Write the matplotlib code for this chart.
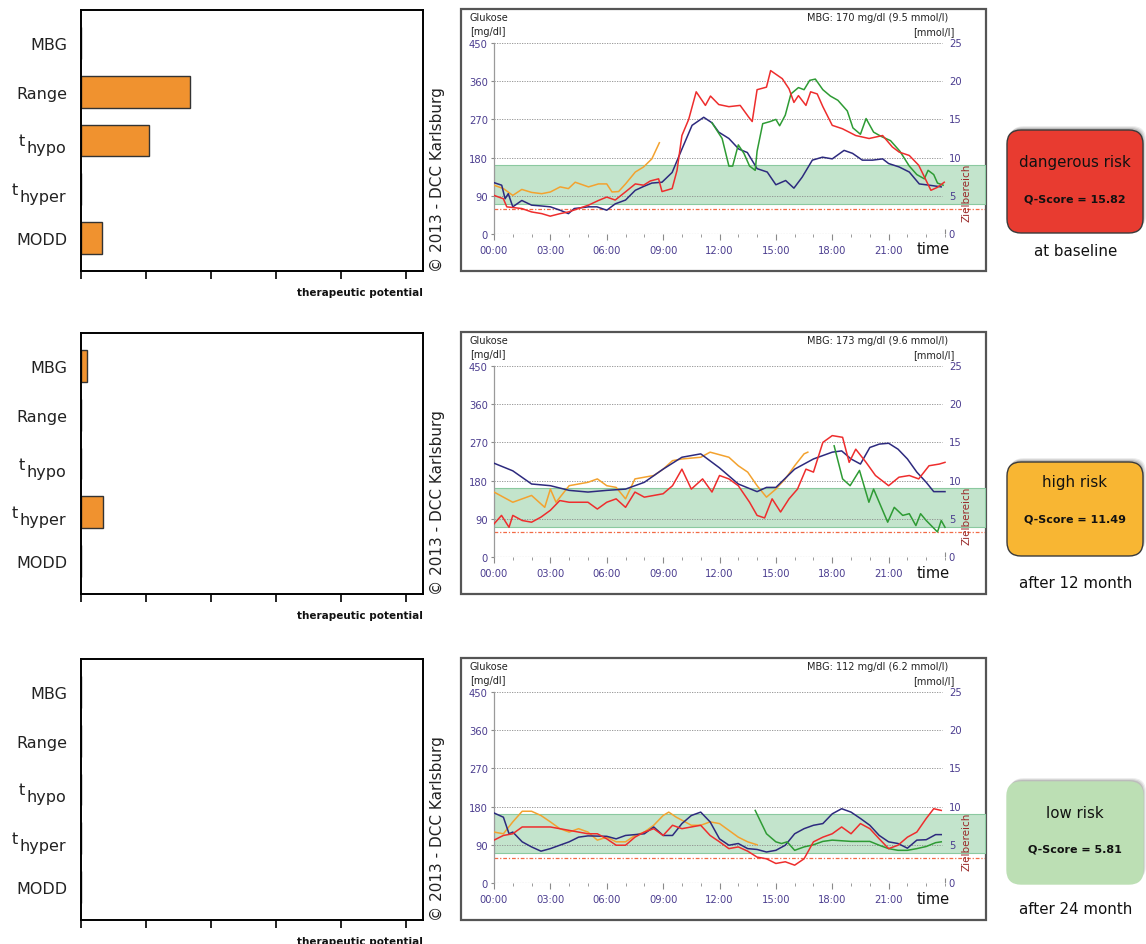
import numpy as np
import matplotlib.pyplot as plt
from matplotlib.patches import Rectangle, FancyBboxPatch

plt.rcParams['font.family'] = ['DejaVu Sans']
NARROW = ['Liberation Sans Narrow', 'DejaVu Sans Condensed', 'DejaVu Sans']

W, H = 1146, 945

# --- therapeutic potential per metric ---
metrics = ['MBG', 'Range', 't_hypo', 't_hyper', 'MODD']
potential_baseline = [0.0, 1.68, 1.05, 0.0, 0.32]
potential_12m = [0.09, 0.0, 0.0, 0.34, 0.0]
potential_24m = [0.0, 0.0, 0.0, 0.0, 0.0]

# --- summary values ---
mbg_mgdl = [170, 173, 112]
mbg_mmol = [9.5, 9.6, 6.2]
q_scores = [15.82, 11.49, 5.81]
risk_names = ['dangerous risk', 'high risk', 'low risk']
risk_colors = ['#E83B30', '#F8B633', '#BCDFB4']
risk_edges = ['#3a3a3a', '#3a3a3a', '#BCDFB4']
periods = ['at baseline', 'after 12 month', 'after 24 month']

y_ticks_mg = [0, 90, 180, 270, 360, 450]
y_ticks_mmol = [0, 5, 10, 15, 20, 25]
x_ticks_h = [0, 3, 6, 9, 12, 15, 18, 21]
x_tick_labels = ['00:00', '03:00', '06:00', '09:00', '12:00', '15:00', '18:00', '21:00']
target_low, target_high, hypo_limit = 70, 162, 60

# --- glucose profiles, baseline ---
bl_orange_h = [0, 0.5, 1.0, 1.48, 2.0, 2.54, 3.0, 3.52, 3.96, 4.32, 5.03, 5.56, 6.0, 6.28,
               6.63, 7.0, 7.52, 7.96, 8.4, 8.8]
bl_orange_mg = [115, 107, 91, 105, 98, 95, 99, 111, 107, 122, 111, 118, 118, 99,
                100, 118, 146, 158, 177, 215]
bl_navy_h = [0, 0.41, 0.59, 0.76, 1.0, 1.48, 2.0, 2.54, 3.0, 3.52, 3.96, 4.27, 5.03, 5.48,
             6.0, 6.45, 7.0, 7.52, 7.96, 8.4, 8.94, 9.48, 10.0, 10.54, 11.16, 11.6, 11.96,
             12.5, 13.03, 13.48, 14.0, 14.54, 15.0, 15.52, 15.96, 16.4, 16.94, 17.48, 18.0,
             18.63, 19.08, 19.6, 20.14, 20.68, 21.0, 21.56, 22.1, 22.63, 23.16, 23.8]
bl_navy_mg = [121, 115, 83, 95, 64, 79, 68, 66, 64, 56, 48, 60, 64, 64,
              56, 71, 80, 103, 112, 120, 122, 145, 200, 256, 275, 262, 240,
              225, 200, 192, 154, 146, 116, 126, 108, 134, 174, 181, 177,
              197, 190, 174, 174, 177, 166, 158, 146, 118, 115, 111]
bl_red_h = [0, 0.5, 0.68, 1.48, 2.0, 2.54, 2.99, 3.52, 3.96, 4.5, 5.03, 5.56, 6.0, 6.45,
            6.99, 7.52, 7.96, 8.32, 8.76, 8.94, 9.48, 9.74, 10.0, 10.36, 10.76, 11.25,
            11.52, 11.96, 12.5, 13.1, 13.56, 13.74, 14.0, 14.5, 14.72, 15.34, 15.7, 15.96,
            16.2, 16.6, 16.85, 17.2, 17.5, 18.0, 18.54, 19.25, 19.96, 20.68, 21.2, 21.56,
            22.1, 22.6, 23.25, 23.6, 23.96]
bl_red_mg = [91, 83, 64, 60, 52, 48, 42, 48, 52, 60, 68, 79, 87, 80,
             99, 118, 115, 125, 130, 100, 107, 150, 232, 270, 335, 303,
             325, 305, 300, 303, 275, 265, 340, 346, 385, 366, 342, 310,
             326, 303, 335, 330, 300, 256, 248, 232, 225, 232, 205, 193,
             185, 162, 103, 110, 122]
bl_green_h = [11.6, 12.14, 12.5, 12.7, 13.0, 13.3, 13.6, 13.9, 14.0, 14.3, 14.7, 15.0, 15.2,
              15.5, 15.8, 16.2, 16.5, 16.8, 17.1, 17.5, 17.9, 18.3, 18.8, 19.1, 19.5, 19.8,
              20.2, 20.6, 21.1, 21.6, 22.1, 22.5, 22.9, 23.1, 23.4, 23.6, 23.9]
bl_green_mg = [262, 225, 160, 160, 210, 190, 160, 150, 195, 260, 265, 270, 255,
               280, 330, 345, 340, 362, 365, 340, 325, 315, 290, 250, 235, 272,
               240, 230, 220, 195, 160, 140, 130, 150, 140, 120, 115]

# --- glucose profiles, after 12 months ---
m12_orange_h = [0, 1.0, 2.0, 2.7, 3.0, 3.3, 4.0, 5.0, 5.5, 6.0, 6.5, 7.0, 7.5, 8.5, 9.0,
                9.5, 10.0, 11.0, 11.5, 12.5, 13.0, 13.5, 14.0, 14.5, 15.0, 15.5, 16.0,
                16.5, 16.7]
m12_orange_mg = [153, 129, 145, 117, 160, 129, 168, 176, 184, 168, 164, 137, 184, 192, 207,
                 227, 231, 235, 247, 235, 215, 200, 168, 141, 160, 184, 215,
                 243, 247]
m12_navy_h = [0, 1, 2, 3, 4, 5, 6, 7, 8, 9, 10, 11, 12, 13, 14, 14.5, 15, 16, 17, 18, 18.5,
              19, 19.5, 20, 20.5, 21, 21.5, 22, 22.5, 23, 23.4, 24]
m12_navy_mg = [221, 203, 172, 168, 157, 153, 157, 160, 176, 207, 235, 243, 210, 172, 154, 164,
               164, 207, 231, 247, 250, 231, 219, 258, 266, 268, 254, 231, 200, 176, 154, 154]
m12_red_h = [0, 0.4, 0.8, 1.0, 1.5, 2.0, 2.5, 3.0, 3.5, 4.0, 5.0, 5.5, 6.0, 6.5, 7.0, 7.5,
             8.0, 8.5, 9.0, 9.5, 10.0, 10.5, 11.1, 11.6, 12.0, 12.5, 13.0, 13.6, 14.0, 14.4,
             14.8, 15.25, 15.7, 16.15, 16.6, 17.0, 17.5, 18.0, 18.55, 18.9, 19.25, 19.8,
             20.3, 21.0, 21.55, 22.1, 22.6, 23.15, 23.7, 24.0]
m12_red_mg = [78, 98, 70, 98, 86, 82, 94, 110, 133, 129, 129, 113, 129, 137, 117, 153,
              141, 145, 149, 168, 207, 160, 184, 153, 192, 184, 168, 129, 98, 92,
              137, 106, 137, 160, 207, 200, 270, 286, 282, 223, 254, 223,
              192, 168, 188, 192, 184, 215, 219, 223]
m12_green_h = [18.1, 18.55, 18.95, 19.45, 19.95, 20.2, 20.95, 21.3, 21.75, 22.1, 22.45, 22.7,
               23.0, 23.6, 23.8, 24.0]
m12_green_mg = [262, 184, 168, 204, 129, 160, 82, 117, 98, 102, 74, 102,
                86, 59, 86, 70]

# --- glucose profiles, after 24 months ---
m24_orange_h = [0, 0.5, 1.0, 1.5, 2.0, 2.5, 3.0, 3.5, 4.0, 4.5, 5.0, 5.5, 6.0, 6.5, 7.0,
                7.5, 8.0, 8.5, 9.0, 9.3, 9.7, 10.0, 10.5, 11.0, 11.5, 12.0, 12.5, 13.0,
                13.5, 14.0]
m24_orange_mg = [120, 116, 144, 169, 169, 159, 144, 128, 120, 128, 120, 101, 108, 97, 97,
                 112, 120, 136, 159, 167, 155, 148, 136, 136, 144, 140, 124, 108,
                 97, 90]
m24_navy_h = [0, 0.5, 0.8, 1.0, 1.5, 2.0, 2.5, 3.0, 4.0, 4.5, 5.0, 6.0, 6.5, 7.0, 8.0, 8.5,
              9.0, 9.5, 10.0, 10.5, 11.0, 11.5, 12.0, 12.5, 13.0, 13.5, 14.0, 14.5, 15.0,
              15.5, 16.0, 16.5, 17.0, 17.5, 18.0, 18.5, 19.0, 19.5, 20.0, 20.5, 21.0, 21.5,
              22.0, 22.5, 23.0, 23.5, 23.8]
m24_navy_mg = [165, 155, 116, 120, 97, 85, 75, 81, 97, 108, 111, 110, 104, 112, 116, 132,
               112, 112, 140, 159, 167, 144, 104, 89, 93, 81, 79, 73, 77,
               89, 116, 128, 136, 140, 163, 175, 167, 152, 136, 112, 97, 93,
               82, 101, 102, 114, 114]
m24_red_h = [0, 0.5, 1.0, 1.5, 2.0, 3.0, 3.5, 4.0, 5.0, 5.5, 6.0, 6.5, 7.0, 7.5, 8.0, 8.5,
             9.0, 9.5, 10.0, 10.5, 11.0, 11.5, 12.0, 12.5, 13.0, 13.5, 14.0, 14.5, 15.0,
             15.5, 16.0, 16.5, 17.0, 17.5, 18.0, 18.5, 19.0, 19.5, 20.0, 20.5, 21.0, 21.5,
             22.0, 22.5, 23.0, 23.4, 23.8]
m24_red_mg = [101, 112, 116, 132, 132, 132, 128, 124, 116, 116, 104, 89, 89, 108, 120, 128,
              112, 136, 128, 132, 136, 112, 97, 81, 85, 75, 61, 57, 46,
              50, 42, 57, 97, 108, 116, 132, 116, 140, 128, 104, 81, 89,
              108, 120, 152, 175, 171]
m24_green_h = [13.9, 14.5, 15.0, 15.3, 15.6, 16.0, 16.5, 17.0, 17.5, 18.0, 19.0, 20.0, 20.5,
               21.0, 21.5, 22.0, 22.5, 23.0, 23.5, 23.8]
m24_green_mg = [171, 116, 97, 93, 97, 77, 85, 90, 98, 101, 98, 98, 89,
                81, 77, 77, 81, 86, 95, 97]

line_colors = {'orange': '#F3A22F', 'navy': '#2D2A7E', 'red': '#EE2D2D', 'green': '#2E9B34'}
days = [
    {'orange': (bl_orange_h, bl_orange_mg), 'navy': (bl_navy_h, bl_navy_mg),
     'green': (bl_green_h, bl_green_mg), 'red': (bl_red_h, bl_red_mg)},
    {'orange': (m12_orange_h, m12_orange_mg), 'navy': (m12_navy_h, m12_navy_mg),
     'red': (m12_red_h, m12_red_mg), 'green': (m12_green_h, m12_green_mg)},
    {'orange': (m24_orange_h, m24_orange_mg), 'navy': (m24_navy_h, m24_navy_mg),
     'green': (m24_green_h, m24_green_mg), 'red': (m24_red_h, m24_red_mg)},
]
potentials = [potential_baseline, potential_12m, potential_24m]

PURPLE = '#4B3D8F'
row_dy = [0, 323, 649]


def px_rect(x0, y0, x1, y1):
    return [x0 / W, 1 - y1 / H, (x1 - x0) / W, (y1 - y0) / H]


fig = plt.figure(figsize=(W / 100, H / 100), dpi=100)
renderer = fig.canvas.get_renderer()

# overlay in pixel coordinates for frames, boxes and free text
ov = fig.add_axes([0, 0, 1, 1])
ov.set_xlim(0, W)
ov.set_ylim(H, 0)
ov.set_axis_off()

for row in range(3):
    dy = row_dy[row]

    # therapeutic potential bars
    ax = fig.add_axes(px_rect(81, 11 + dy, 423, 272 + dy))
    ax.barh(range(5), potentials[row], height=0.65, color='#F0922F',
            edgecolor='#333333', linewidth=1)
    ax.set_xlim(0, 5.26)
    ax.set_ylim(4.67, -0.67)
    ax.set_xticks(range(6))
    ax.set_xticklabels([])
    ax.tick_params(axis='x', length=6, width=1.2, direction='out')
    ax.set_yticks(range(5))
    ax.set_yticklabels(['' if '_' in m else m for m in metrics], fontsize=11.5,
                       color='#222222')
    ax.tick_params(axis='y', length=0, pad=10)
    # t_hypo / t_hyper: "t" followed by a lowered full-size suffix
    for k, name in enumerate(metrics):
        if '_' not in name:
            continue
        base, sub = name.split('_')
        t_sub = ax.annotate(sub, xy=(0, k), xycoords=ax.get_yaxis_transform(),
                            xytext=(-15, -12), textcoords='offset pixels', ha='right',
                            va='baseline', fontsize=11.5, color='#222222')
        wsub = t_sub.get_window_extent(renderer).width
        ax.annotate(base, xy=(0, k), xycoords=ax.get_yaxis_transform(),
                    xytext=(-15 - wsub - 1, -5), textcoords='offset pixels', ha='right',
                    va='baseline', fontsize=11.5, color='#222222')
    for sp in ax.spines.values():
        sp.set_linewidth(1.4)
    ov.text(423, 293 + dy, 'therapeutic potential', ha='right', va='center',
            fontsize=7.5, fontweight='bold', color='#111111')
    ov.text(437, 180 + dy, '\u00a9 2013 - DCC Karlsburg', rotation=90, ha='center',
            va='center', fontsize=11, color='#222222')

    # glucose profile frame
    ov.add_patch(Rectangle((461, 10 + dy), 525, 262, facecolor='white',
                           edgecolor='#555555', linewidth=1.6))
    ov.text(470, 18 + dy, 'Glukose', fontsize=7, va='center', color='#222222')
    ov.text(470, 32 + dy, '[mg/dl]', fontsize=7, va='center', color='#222222')
    ov.text(948, 18 + dy, f'MBG: {mbg_mgdl[row]} mg/dl ({mbg_mmol[row]} mmol/l)',
            fontsize=7, ha='right', va='center', color='#222222')
    ov.text(954, 32 + dy, '[mmol/l]', fontsize=7, ha='right', va='center', color='#222222')
    ov.text(933, 250 + dy, 'time', fontsize=10.5, ha='center', va='center', color='#111111')

    gx = fig.add_axes(px_rect(494, 44 + dy, 985, 235 + dy))
    gx.patch.set_visible(False)
    xmax = 24 * (985 - 494) / (945 - 494)
    gx.set_xlim(0, xmax)
    gx.set_ylim(0, 450)
    for s in ['top', 'right', 'bottom']:
        gx.spines[s].set_visible(False)
    gx.spines['left'].set_color('#9a9a9a')
    gx.spines['left'].set_linewidth(0.9)
    gx.fill_between([0, xmax], target_low, target_high, facecolor='#C3E4CC',
                    edgecolor='#8BC9A0', linewidth=0.8, zorder=1)
    gx.axhline(hypo_limit, color='#F26A45', linewidth=0.9,
               linestyle=(0, (3, 1.5, 1, 1.5)), zorder=1)
    gx.hlines(y_ticks_mg[1:], 0, 23.85, colors='#8a8a8a', linewidth=0.6,
              linestyles=(0, (1.5, 1.5)), zorder=1)
    gx.hlines(0, 0, 24, colors='#8a8a8a', linewidth=0.8, linestyles=(0, (1.5, 1)), zorder=1)
    gx.vlines(24, 0, 12, colors='#8a8a8a', linewidth=0.8)
    gx.text(966, 193 + dy, 'Zielbereich', rotation=90, fontsize=7.5, ha='center',
            va='center', color='#9A2A2A', transform=ov.transData, zorder=4)

    for name in ['orange', 'navy', 'green', 'red']:
        hrs, mg = days[row][name]
        gx.plot(hrs, mg, color=line_colors[name], linewidth=1.1, zorder=3)

    gx.set_xticks(x_ticks_h)
    gx.set_xticklabels(x_tick_labels, family=NARROW, stretch='condensed')
    gx.set_xticks(range(25), minor=True)
    gx.tick_params(axis='x', which='major', length=4, color='#8a8a8a', labelsize=8,
                   labelcolor=PURPLE, pad=4)
    gx.tick_params(axis='x', which='minor', length=2.5, color='#8a8a8a')
    gx.set_yticks(y_ticks_mg)
    gx.set_yticklabels([str(v) for v in y_ticks_mg], family=NARROW, stretch='condensed')
    gx.tick_params(axis='y', length=2.5, color='#8a8a8a', labelsize=8,
                   labelcolor=PURPLE, pad=2)
    for mg_v, mmol_v in zip(y_ticks_mg, y_ticks_mmol):
        gx.text(24.2, mg_v, str(mmol_v), ha='left', va='center', fontsize=8,
                color=PURPLE, family=NARROW, stretch='condensed')

# risk summary boxes
box_top = [131, 463, 783]
box_bottom = [234, 557, 885]
risk_text_y = [162, 483, 813]
score_text_y = [199, 520, 850]
caption_y = [252, 583, 909]
for i in range(3):
    x0, x1 = 1007, 1143
    y0, y1 = box_top[i], box_bottom[i]
    for off, a in [(4, 0.07), (3, 0.09), (2, 0.12)]:
        ov.add_patch(FancyBboxPatch((x0 + off - 1, y0 - off), x1 - x0, y1 - y0,
                                    boxstyle='round,pad=0,rounding_size=14',
                                    facecolor='#000000', alpha=a, edgecolor='none'))
    ov.add_patch(FancyBboxPatch((x0, y0), x1 - x0, y1 - y0,
                                boxstyle='round,pad=0,rounding_size=14',
                                facecolor=risk_colors[i], edgecolor=risk_edges[i],
                                linewidth=1.0))
    ov.text((x0 + x1) / 2, risk_text_y[i], risk_names[i], ha='center', va='center',
            fontsize=10.8, color='#111111')
    ov.text((x0 + x1) / 2, score_text_y[i], f'Q-Score = {q_scores[i]:.2f}', ha='center',
            va='center', fontsize=8, fontweight='bold', color='#111111')
    ov.text(1076, caption_y[i], periods[i], ha='center', va='center', fontsize=10.8,
            color='#111111')

fig.savefig('out.png', dpi=100, facecolor='white')
